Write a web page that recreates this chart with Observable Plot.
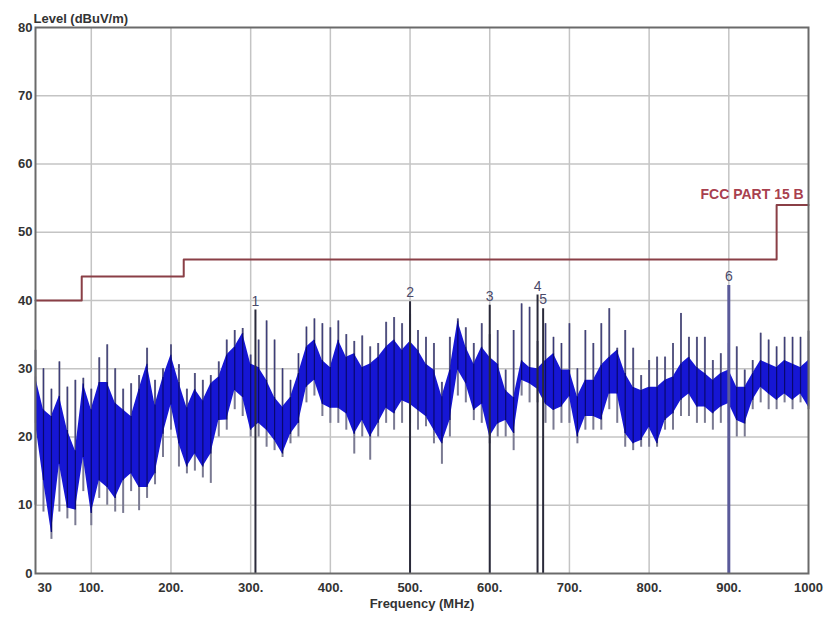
<!DOCTYPE html>
<html>
<head>
<meta charset="utf-8">
<script src="https://cdn.jsdelivr.net/npm/d3@7"></script>
<script src="https://cdn.jsdelivr.net/npm/@observablehq/plot@0.6"></script>
<style>
  html, body { margin: 0; padding: 0; background: #fff; }
  #chart svg { display: block; }
</style>
</head>
<body>
<div id="chart"></div>
<script>
// Scan frequencies (MHz)
const freqs = [30,40,50,60,70,80,90,100,110,120,130,140,150,160,170,180,190,200,210,220,230,240,250,260,270,280,290,300,310,320,330,340,350,360,370,380,390,400,410,420,430,440,450,460,470,480,490,500,510,520,530,540,550,560,570,580,590,600,610,620,630,640,650,660,670,680,690,700,710,720,730,740,750,760,770,780,790,800,810,820,830,840,850,860,870,880,890,900,910,920,930,940,950,960,970,980,990,1000];
// Blue band upper / lower level (dBuV/m)
const bandHi = [28.8,24,23,26,21,18,27.8,24,28,28,25,24,23,27,30.7,24.7,28.7,32,28,24.3,27,25.3,27.8,28.8,32,33.2,35.2,30.7,30.2,28.3,25.8,24.4,25.8,29.3,33.2,34.2,31.2,30.2,34.2,31.7,32.2,30.2,30.7,31.7,33.2,34.2,32.7,34,32.7,30.7,29.8,25.9,29.8,37,33.2,30.7,33.2,31.7,30.7,26.8,25.8,31.2,30.2,30,31.2,32.2,29.8,29.8,25.9,28.3,28.3,30.5,31.7,32.7,29.3,27.3,26.8,27.3,27.3,28.3,28.8,30.7,31.7,30.2,29.3,28.3,29.3,29.8,27.3,27.3,29.3,31.2,30.7,30.2,31.2,30.7,30.2,31.2];
const bandLo = [22,13.6,6,16,9.6,9.3,17,8.8,13.6,12.6,11,13.6,14.6,12.6,12.6,14.6,20.4,24.7,19,15.6,17.5,15.6,17.5,22.4,22.5,26.8,25.8,21,22,21,19.5,17.5,20.4,22,27.3,28.3,24.8,24.2,24.2,23.4,20.4,22.4,20,22,24.2,23.4,25.3,24.8,23.9,23,21,19,22.4,29.8,27.8,23.9,24.8,20,21.9,22.4,20.5,28.3,27.8,27,24.8,23.9,24.4,25.9,20,23,23,22.5,26.3,26.3,20.5,19,19.5,21.4,19,22.4,23.4,25.4,26.3,24.4,24.4,23.4,24.4,24.9,22.4,21.9,25.4,27.3,26.3,25.4,26.3,25.4,26.3,24.4];
// Grey peak-hold spikes: top and bottom level
const peakHi = [32.7,30,27,31,27.3,28.3,28.6,27,31.6,33.5,30,27,27.8,29,33,28.3,30,33.5,30.6,27,29.3,28.3,29,31,34.2,35.6,35.9,32,34.2,37,34.2,30,28.3,32.2,36.1,37.3,36.6,36,37,35,34,34.8,33.2,33.7,36.8,37.5,36.6,38,35.6,34.6,33.7,28,34.6,37.3,36,33.7,36.6,35,35.6,29.8,35.6,39.5,39,34,36.6,34.6,33.7,36.6,30,35.6,33.7,36.6,38.8,33,35.6,33,29,31.2,31.7,31.7,33.7,38.1,34.6,34.6,34.6,31.2,32.2,33.7,33.2,29.8,31.2,35.2,34.2,33.2,34.6,34.6,34.6,35.5];
const peakLo = [10,9,5,9,8,7,12,7,11,10,9,8.8,12,9.2,11,13,17,21,15.6,14.6,15,14,13.2,20,21,24,23,20,20,18.5,18,17,19,20,25,26,23,22,22,21,17.5,20,16.6,20,22,21,22,22,21,21.5,19,16,20,26,25,22.4,22,19,20,20,18,26,25,25,22,21,22,22,19,21,21,21,24,22,18.5,18,18.5,18.5,18.5,21,21,23,23,22,22,21,22,22,20,20,24,25,24,24,25,24,25,24];

// FCC Part 15 B limit (step)
const limitF = [30, 88, 216, 960, 1000];
const limitV = [40, 43.5, 46, 54, 54];
const limitLabel = "FCC PART 15 B";

// Markers
const markerId = ["1","2","3","4","5","6"];
const markerF = [306, 500, 600, 660, 667, 900];
const markerV = [38.6, 39.8, 39.3, 40.8, 38.8, 42.2];

// Axis ticks
const xTicks = [30,100,200,300,400,500,600,700,800,900,1000];
const xTickLabels = ["30","100.","200.","300.","400.","500.","600.","700.","800.","900.","1000"];
const yTicks = [0,10,20,30,40,50,60,70,80];

const scan = freqs.map((f,i) => ({f, hi: bandHi[i], lo: bandLo[i], peak: peakHi[i], low: peakLo[i]}));
const limit = limitF.map((f,i) => ({f, v: limitV[i]}));
const markers = markerF.map((f,i) => ({id: markerId[i], f, v: markerV[i], last: i === 5}));

const font = "Liberation Sans, Arial, sans-serif";
const lbl = d => xTickLabels[xTicks.indexOf(d)];

const chart = Plot.plot({
  width: 827,
  height: 624,
  marginLeft: 35,
  marginRight: 19,
  marginTop: 27,
  marginBottom: 51,
  style: {fontFamily: font, background: "#fff", overflow: "visible"},
  x: {domain: [30, 1000]},
  y: {domain: [0, 80]},
  marks: [
    Plot.gridX([100,200,300,400,500,600,700,800,900], {stroke: "#c4c4c4", strokeOpacity: 1, strokeWidth: 1.5}),
    Plot.gridY([10,20,30,40,50,60,70], {stroke: "#c4c4c4", strokeOpacity: 1, strokeWidth: 1.5}),
    Plot.ruleX(scan, {x: "f", y1: "low", y2: "peak", stroke: "#7a7a92", strokeWidth: 2}),
    Plot.areaY(scan, {x: "f", y1: "lo", y2: "hi", fill: "#1616d4", curve: "linear"}),
    Plot.ruleX(scan, {x: "f", y1: "lo", y2: "hi", stroke: "#08086e", strokeWidth: 1.2}),
    Plot.ruleX(scan, {x: "f", y1: "hi", y2: "peak", stroke: "#3a3a78", strokeWidth: 1}),
    Plot.line(limit, {x: "f", y: "v", curve: "step-after", stroke: "#8a3f46", strokeWidth: 2}),
    Plot.text([limitLabel], {x: 994, y: 55.6, text: d => d, textAnchor: "end", fill: "#a8404e", fontSize: 14, fontWeight: "bold"}),
    Plot.ruleX(markers, {x: "f", y1: 0, y2: "v", stroke: d => d.last ? "#5a5a9a" : "#2a2a3a", strokeWidth: d => d.last ? 3 : 2}),
    Plot.text(markers, {x: "f", y: "v", text: "id", dy: -9, fill: "#4a4a6a", fontSize: 14}),
    Plot.frame({stroke: "#6a6a6a", strokeWidth: 2}),
    Plot.axisY(yTicks, {ticks: yTicks, tickSize: 0, tickPadding: 3, fontSize: 13, fontWeight: "bold", fill: "#333", label: null}),
    Plot.axisX([30], {ticks: [30], tickSize: 0, tickPadding: 9, textAnchor: "start", dx: 2, tickFormat: lbl, fontSize: 13, fontWeight: "bold", fill: "#333", label: null}),
    Plot.axisX(xTicks.slice(1), {ticks: xTicks.slice(1), tickSize: 0, tickPadding: 9, tickFormat: lbl, fontSize: 13, fontWeight: "bold", fill: "#333", label: null}),
    Plot.text(["Frequency (MHz)"], {frameAnchor: "bottom", dy: 34, text: d => d, fontSize: 13, fontWeight: "bold", fill: "#333"}),
    Plot.text(["Level (dBuV/m)"], {frameAnchor: "top-left", dy: -14, dx: -2, text: d => d, textAnchor: "start", fontSize: 13, fontWeight: "bold", fill: "#333"})
  ]
});
document.getElementById("chart").appendChild(chart);
</script>
</body>
</html>
